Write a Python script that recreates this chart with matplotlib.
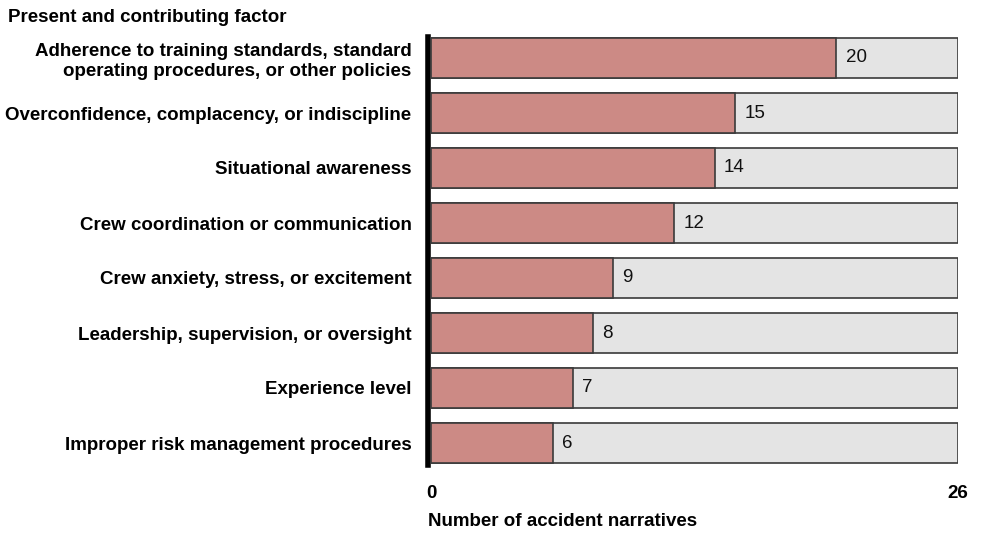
import numpy as np
import matplotlib.pyplot as plt
import matplotlib as mpl

mpl.rcParams['font.family'] = ['Liberation Sans', 'DejaVu Sans']
mpl.rcParams['font.weight'] = 'bold'

# Données
factors = [
    'Adherence to training standards, standard\noperating procedures, or other policies',
    'Overconfidence, complacency, or indiscipline',
    'Situational awareness',
    'Crew coordination or communication',
    'Crew anxiety, stress, or excitement',
    'Leadership, supervision, or oversight',
    'Experience level',
    'Improper risk management procedures',
]
counts = [20, 15, 14, 12, 9, 8, 7, 6]
total = 26

W, H = 987, 533
fig = plt.figure(figsize=(W / 100, H / 100), dpi=100)
ax = fig.add_axes([431 / W, 1 - 466 / H, (958 - 431) / W, (466 - 36) / H])

y = np.arange(len(factors))
h = 40 / 55

# Barres de fond (total) puis barres rouges
ax.barh(y, [total] * len(y), height=h, color='#E4E4E4', edgecolor='#3a3a3a', linewidth=1.2, zorder=1)
ax.barh(y, counts, height=h, color='#CC8A85', edgecolor='#3a3a3a', linewidth=1.2, zorder=2)

for yi, c in zip(y, counts):
    ax.text(c + 0.45, yi, str(c), va='center', ha='left', fontsize=13.5, fontweight='normal',
            color='#111111', zorder=3)

ax.set_xlim(0, total)
ax.set_ylim(7 + (466 - 443) / 55, -(58 - 36) / 55)

ax.set_yticks(y)
ax.set_yticklabels(factors, ha='right', linespacing=1.05)
ax.tick_params(axis='y', length=0, pad=12, labelsize=13.5)
ax.set_xticks([0, total])
ax.set_xticklabels(['0', '26'])
ax.tick_params(axis='x', length=0, pad=14, labelsize=13.5)

for s in ['top', 'right', 'bottom']:
    ax.spines[s].set_visible(False)
ax.spines['left'].set_linewidth(4)
ax.spines['left'].set_color('black')
ax.spines['left'].set_position(('outward', 2))
ax.spines['left'].set_bounds(-h / 2 - 0.02, 7 + h / 2 + 0.03)

fig.text(428 / W, 1 - 522 / H, 'Number of accident narratives', fontsize=13.5,
         ha='left', va='center')
fig.text(8 / W, 1 - 17 / H, 'Present and contributing factor', fontsize=13.5,
         ha='left', va='center')

fig.savefig('out.png', dpi=100)
